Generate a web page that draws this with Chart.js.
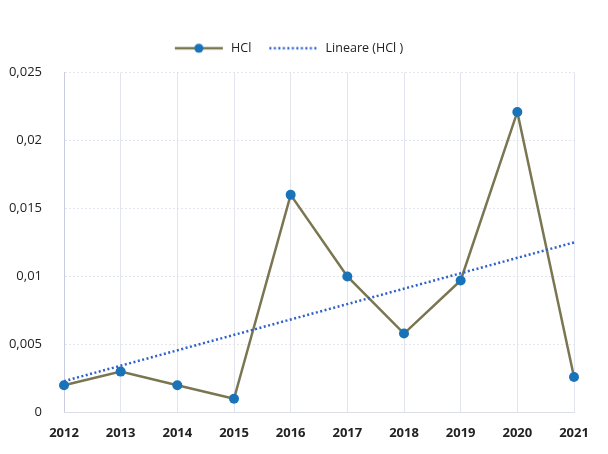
<!DOCTYPE html>
<html>
<head>
<meta charset="utf-8">
<script src="https://cdn.jsdelivr.net/npm/chart.js@4"></script>
<style>
	html, body { margin: 0; padding: 0; background: #fff; }
	#wrap { width: 608px; height: 454px; }
</style>
</head>
<body>
<div id="wrap"><canvas id="hclChart"></canvas></div>
<script>
// Values
const years = ['2012', '2013', '2014', '2015', '2016', '2017', '2018', '2019', '2020', '2021'];
const hclValues = [0.002, 0.003, 0.002, 0.001, 0.016, 0.01, 0.0058, 0.0097, 0.0221, 0.0026];
// Linear trend line endpoints (Lineare)
const trendYears = ['2012', '2021'];
const trendValues = [0.0023, 0.0125];
const yTicks = [0, 0.005, 0.01, 0.015, 0.02, 0.025];

const lineColor = '#7b7652';
const pointColor = '#1873b8';
const trendColor = '#2e62c9';

// legend icons
function makeIcon(draw) {
	const c = document.createElement('canvas');
	c.width = 52;
	c.height = 12;
	draw(c.getContext('2d'));
	return c;
}
const hclIcon = makeIcon(function(ctx) {
	ctx.strokeStyle = lineColor;
	ctx.lineWidth = 2.5;
	ctx.beginPath();
	ctx.moveTo(2, 6);
	ctx.lineTo(50, 6);
	ctx.stroke();
	ctx.fillStyle = pointColor;
	ctx.beginPath();
	ctx.arc(26, 6, 4.5, 0, Math.PI * 2);
	ctx.fill();
});
const trendIcon = makeIcon(function(ctx) {
	ctx.strokeStyle = trendColor;
	ctx.lineWidth = 2.5;
	ctx.setLineDash([2, 2.5]);
	ctx.beginPath();
	ctx.moveTo(2, 6);
	ctx.lineTo(50, 6);
	ctx.stroke();
});

// push the plot area a bit further below the legend
const legendGap = {
	id: 'legendGap',
	beforeInit: function(chart) {
		const fit = chart.legend.fit;
		chart.legend.fit = function() {
			fit.call(this);
			this.height += 8;
		};
	}
};

const ctx = document.getElementById('hclChart').getContext('2d');
new Chart(ctx, {
	type: 'line',
	data: {
		labels: years,
		datasets: [{
			label: 'HCl',
			data: hclValues,
			borderColor: lineColor,
			backgroundColor: pointColor,
			borderWidth: 2.5,
			tension: 0,
			pointRadius: 5,
			pointBackgroundColor: pointColor,
			pointBorderColor: pointColor,
			pointBorderWidth: 0,
			pointStyle: 'circle',
			order: 1
		}, {
			label: 'Lineare (HCl )',
			data: trendYears.map((y, i) => ({ x: y, y: trendValues[i] })),
			borderColor: trendColor,
			borderWidth: 2.5,
			borderDash: [2, 2.5],
			pointRadius: 0,
			order: 0
		}]
	},
	options: {
		responsive: true,
		maintainAspectRatio: false,
		animation: false,
		layout: {
			padding: { left: 2, right: 34, top: 26, bottom: 0 }
		},
		plugins: {
			legend: {
				display: true,
				position: 'top',
				labels: {
					usePointStyle: true,
					pointStyleWidth: 52,
					padding: 16,
					color: '#222',
					font: { family: 'Open Sans', size: 12.5 },
					generateLabels: function(chart) {
						return [
							{ text: 'HCl', pointStyle: hclIcon, datasetIndex: 0, fontColor: '#222', lineWidth: 0, strokeStyle: 'transparent', fillStyle: 'transparent' },
							{ text: 'Lineare (HCl )', pointStyle: trendIcon, datasetIndex: 1, fontColor: '#222', lineWidth: 0, strokeStyle: 'transparent', fillStyle: 'transparent' }
						];
					}
				}
			},
			tooltip: { enabled: false }
		},
		scales: {
			y: {
				min: 0,
				max: 0.025,
				afterBuildTicks: function(scale) {
					scale.ticks = yTicks.map(v => ({ value: v }));
				},
				afterFit: function(scale) {
					scale.width = 62;
				},
				ticks: {
					padding: 22,
					color: '#222',
					font: { family: 'Open Sans', size: 13 },
					callback: function(value) {
						return String(+value.toFixed(3)).replace('.', ',');
					}
				},
				grid: {
					color: '#e4e5ef',
					drawTicks: false
				},
				border: { display: true, color: '#c9cbe0', dash: [2, 2] }
			},
			x: {
				offset: false,
				ticks: {
					padding: 13,
					color: '#222',
					maxRotation: 0,
					font: { family: 'Open Sans', size: 13, weight: 'bold' }
				},
				grid: {
					color: '#e2e4ef',
					drawTicks: false
				},
				border: { display: true, color: '#dcdde8' }
			}
		}
	},
	plugins: [legendGap]
});
</script>
</body>
</html>
